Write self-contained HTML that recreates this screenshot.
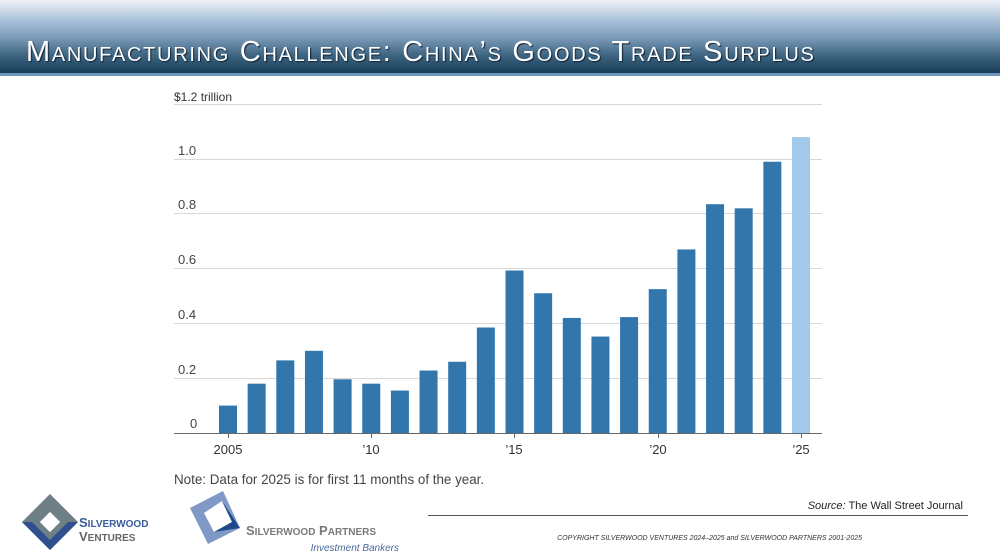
<!DOCTYPE html>
<html><head><meta charset="utf-8"><style>
body{margin:0;width:1000px;height:560px;background:#fff;position:relative;overflow:hidden;font-family:"Liberation Sans",sans-serif}
.hdr{position:absolute;left:0;top:0;width:1000px;height:73px;background:linear-gradient(#eef2f8 0%,#a9c0d8 28%,#7f9fbd 50%,#3f6682 75%,#173c57 100%)}
.hl{position:absolute;left:0;top:73px;width:1000px;height:3px;background:#6f97c0}
.title{position:absolute;left:26px;top:36px;color:#fff;font-size:29px;font-variant:small-caps;letter-spacing:1.7px;white-space:nowrap;text-shadow:1px 1px 1px #123}
</style></head><body>
<div class="hdr"></div><div class="hl"></div>
<div class="title">Manufacturing Challenge: China’s Goods Trade Surplus</div>
<svg width="1000" height="560" style="position:absolute;left:0;top:0" font-family="Liberation Sans, sans-serif">
<text x="174" y="101" font-size="12" fill="#333">$1.2 trillion</text>
<g stroke="#d8d8d8" stroke-width="1">
<line x1="174" x2="822" y1="104.5" y2="104.5"/><line x1="174" x2="822" y1="159.5" y2="159.5"/><line x1="174" x2="822" y1="213.5" y2="213.5"/><line x1="174" x2="822" y1="268.5" y2="268.5"/><line x1="174" x2="822" y1="323.5" y2="323.5"/><line x1="174" x2="822" y1="378.5" y2="378.5"/>
</g>
<g font-size="13" fill="#444">
<text x="178" y="155">1.0</text><text x="178" y="209">0.8</text><text x="178" y="264">0.6</text><text x="178" y="319">0.4</text><text x="178" y="374">0.2</text><text x="190" y="428">0</text>
</g>
<g id="bars" fill="#3276ac"></g>
<line x1="174" x2="822" y1="433.5" y2="433.5" stroke="#666"/>
<g stroke="#666"><line x1="228.5" x2="228.5" y1="433" y2="438"/><line x1="371.5" x2="371.5" y1="433" y2="438"/><line x1="514.5" x2="514.5" y1="433" y2="438"/><line x1="658.5" x2="658.5" y1="433" y2="438"/><line x1="801.5" x2="801.5" y1="433" y2="438"/></g>
<g font-size="13" fill="#333" text-anchor="middle">
<text x="228" y="454">2005</text><text x="371" y="454">’10</text><text x="514" y="454">’15</text><text x="658" y="454">’20</text><text x="801" y="454">’25</text>
</g>
<text x="174" y="484" font-size="13.4" fill="#444">Note: Data for 2025 is for first 11 months of the year.</text>
<text x="963" y="509" font-size="11" fill="#222" text-anchor="end"><tspan font-style="italic">Source:</tspan> The Wall Street Journal</text>
<line x1="428" x2="968" y1="515.5" y2="515.5" stroke="#555"/>
<text x="862" y="540" font-size="7" font-style="italic" fill="#333" text-anchor="end">COPYRIGHT SILVERWOOD VENTURES 2024–2025 and SILVERWOOD PARTNERS 2001-2025</text>
<g transform="translate(50,522)"><polygon points="0,-28 28,0 0,28 -28,0" fill="#6f7f86"/><polygon points="0,-10 10,0 0,10 -10,0" fill="#fff"/><polygon points="-28,0 0,28 28,0 18,0 0,18 -18,0" fill="#2f4f8f"/><polygon points="-10,0 0,10 10,0 0,-10" fill="#fff"/></g>
<text x="79" y="527" font-size="13" font-weight="bold" fill="#3a5a99">S<tspan font-size="10">ILVERWOOD</tspan></text>
<text x="79" y="541" font-size="13" font-weight="bold" fill="#666">V<tspan font-size="10">ENTURES</tspan></text>
<g transform="translate(220,517)"><polygon points="-30,-9 3,-26 20,11 -12,27" fill="#8098c6"/><polygon points="-16,-4 2,-16 12,5 -6,15" fill="#fff"/><polygon points="2,-16 20,11 -6,15 12,5" fill="#1f4a8a"/></g>
<text x="246" y="535" font-size="13" font-weight="bold" fill="#7a7a7a">S<tspan font-size="10">ILVERWOOD</tspan> P<tspan font-size="10">ARTNERS</tspan></text>
<text x="399" y="551" font-size="10" font-style="italic" fill="#4a6a9a" text-anchor="end">Investment Bankers</text>
</svg>
<script>
var v=[0.10,0.18,0.265,0.30,0.196,0.18,0.155,0.228,0.26,0.385,0.593,0.51,0.42,0.352,0.423,0.525,0.67,0.835,0.82,0.99,1.08];
var g=document.getElementById('bars'),s='';
for(var i=0;i<v.length;i++){var cx=228+i*28.65,h=v[i]*274;s+='<rect x="'+(cx-9)+'" y="'+(433-h)+'" width="18" height="'+h+'"'+(i==20?' fill="#a3c9ea"':'')+'/>';}
g.innerHTML=s;
</script>
</body></html>
